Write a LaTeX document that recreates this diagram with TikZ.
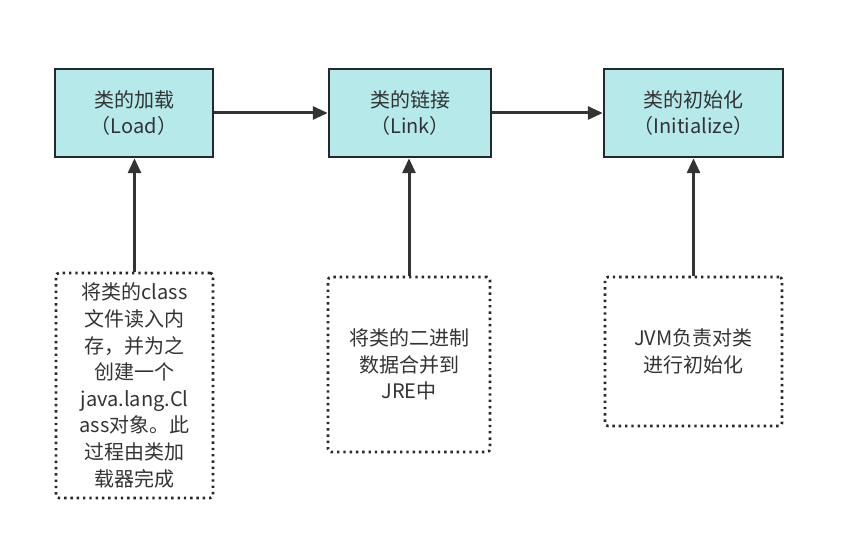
\documentclass[tikz,border=0pt]{standalone}
\usepackage{fontspec}
\setmainfont{Noto Sans CJK SC}
\usetikzlibrary{arrows.meta}
\definecolor{boxfill}{HTML}{B6E9E9}
\definecolor{boxline}{HTML}{24292E}
\definecolor{txt}{HTML}{333333}
\tikzset{
  stagebox/.style={draw=boxline, fill=boxfill, line width=2.5pt, text=txt,
    align=center, inner sep=0pt, font=\fontsize{20}{26.8}\selectfont},
  notebox/.style={draw=boxline, line width=2.6pt, dash pattern=on 2.4pt off 3.9pt,
    rounded corners=3pt, text=txt, align=center, inner sep=0pt,
    font=\fontsize{20}{26.6}\selectfont},
  conn/.style={draw=txt, line width=3pt, -{Triangle[length=15pt,width=13pt]}}
}
\begin{document}
\begin{tikzpicture}[x=1pt,y=-1pt]
\useasboundingbox (0,0) rectangle (849,556);
\node[stagebox, minimum width=158pt, minimum height=88pt] (L1) at (134,113) {类的加载\\（Load）};
\node[stagebox, minimum width=162pt, minimum height=88pt] (L2) at (410,113) {类的链接\\（Link）};
\node[stagebox, minimum width=179pt, minimum height=88pt] (L3) at (693.5,113) {类的初始化\\（Initialize）};
\node[notebox, minimum width=157pt, minimum height=225pt] (A) at (134.5,385.5) {将类的class\\文件读入内\\存，并为之\\创建一个\\java.lang.Cl\\ass对象。此\\过程由类加\\载器完成};
\node[notebox, minimum width=162pt, minimum height=175pt] (B) at (409,364.5) {将类的二进制\\数据合并到\\JRE中};
\node[notebox, minimum width=177pt, minimum height=149pt] (C) at (693.5,351.5) {JVM负责对类\\进行初始化};
\draw[conn] (L1.east) -- (L2.west);
\draw[conn] (L2.east) -- (L3.west);
\draw[conn] (A.north) -- (A.north |- L1.south);
\draw[conn] (B.north) -- (B.north |- L2.south);
\draw[conn] (C.north) -- (C.north |- L3.south);
\end{tikzpicture}
\end{document}
